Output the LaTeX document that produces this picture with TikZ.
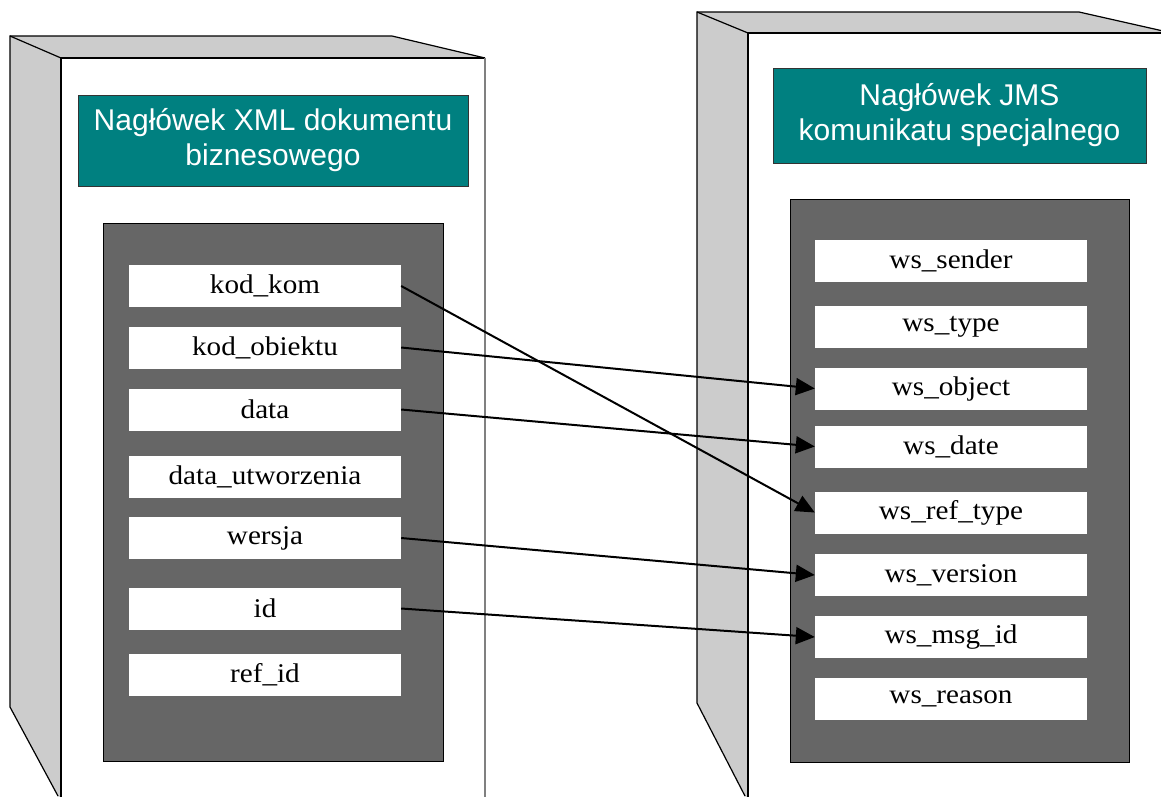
\documentclass[tikz,border=0pt]{standalone}
\usepackage{fontspec}
\usepackage{graphicx}
\setmainfont{Liberation Serif}
\newfontfamily\headsans{Liberation Sans}
\usetikzlibrary{arrows.meta}
\definecolor{sidegray}{HTML}{CCCCCC}
\definecolor{panelgray}{HTML}{666666}
\definecolor{hdrteal}{HTML}{008080}
\definecolor{edgegray}{HTML}{808080}
\newcommand{\fieldlabel}[1]{\scalebox{1.08}[1]{#1}}
\tikzset{
  outline/.style={line width=1.2, draw=black},
  sideface/.style={fill=sidegray},
  hdrbox/.style={draw=black!80, line width=0.8, fill=hdrteal, text=white, align=center, inner sep=0,
    font=\headsans\fontsize{30}{35}\selectfont},
  panelbox/.style={draw=black, line width=1, fill=panelgray, inner sep=0},
  fieldbox/.style={fill=white, inner sep=0, minimum width=272, minimum height=42,
    font=\fontsize{27}{31}\selectfont},
  link/.style={line width=2, -{Triangle[length=19,width=17]}}
}
\begin{document}
\begin{tikzpicture}[x=1pt,y=-1pt]
\useasboundingbox (0,0) rectangle (1161,796);
\clip (0,0) rectangle (1161,796);
\fill[white] (0,0) rectangle (1161,796);

% ---------- left box ----------
\fill[sideface] (10,36) -- (61,58) -- (61,800) -- (58,796) -- (10,707) -- cycle;
\fill[sideface] (10,36) -- (392,36) -- (485,58) -- (61,58) -- cycle;
\fill[white] (61,58) rectangle (485,800);
\draw[outline] (58,796) -- (10,707) -- (10,36) -- (392,36) -- (485,58);
\draw[outline] (10,36) -- (61,58);
\draw[outline] (61,800) -- (61,58) -- (485,58);
\draw[edgegray, line width=1.4] (485,58) -- (485,800);

% ---------- right box ----------
\fill[sideface] (697,12) -- (748,33) -- (748,800) -- (745,796) -- (697,703) -- cycle;
\fill[sideface] (697,12) -- (1079,12) -- (1172,33) -- (748,33) -- cycle;
\fill[white] (748,33) rectangle (1172,800);
\draw[outline] (745,796) -- (697,703) -- (697,12) -- (1079,12) -- (1172,33);
\draw[outline] (697,12) -- (748,33);
\draw[outline] (748,800) -- (748,33) -- (1172,33);

% ---------- headers ----------
\node[hdrbox, minimum width=390, minimum height=91] (hdrL) at (273,140.5)
  {Nagłówek XML dokumentu\\biznesowego};
\node[hdrbox, minimum width=373, minimum height=95] (hdrR) at (959.5,115.5)
  {Nagłówek JMS\\komunikatu specjalnego};

% ---------- panels ----------
\node[panelbox, minimum width=340, minimum height=538] (panelL) at (273,492) {};
\node[panelbox, minimum width=339, minimum height=563] (panelR) at (959.5,480.5) {};

% ---------- left fields ----------
\node[fieldbox] (kodkom)  at (265,286)   {\fieldlabel{kod\_kom}};
\node[fieldbox] (kodobj)  at (265,347.5) {\fieldlabel{kod\_obiektu}};
\node[fieldbox] (data)    at (265,409.5) {\fieldlabel{data}};
\node[fieldbox] (datautw) at (265,476.5) {\fieldlabel{data\_utworzenia}};
\node[fieldbox] (wersja)  at (265,538)   {\fieldlabel{wersja}};
\node[fieldbox] (id)      at (265,608.5) {\fieldlabel{id}};
\node[fieldbox] (refid)   at (265,675)   {\fieldlabel{ref\_id}};

% ---------- right fields ----------
\node[fieldbox] (wssender)  at (951,261)   {\fieldlabel{ws\_sender}};
\node[fieldbox] (wstype)    at (951,326.5) {\fieldlabel{ws\_type}};
\node[fieldbox] (wsobject)  at (951,388.5) {\fieldlabel{ws\_object}};
\node[fieldbox] (wsdate)    at (951,446.5) {\fieldlabel{ws\_date}};
\node[fieldbox] (wsreftype) at (951,512.5) {\fieldlabel{ws\_ref\_type}};
\node[fieldbox] (wsversion) at (951,575)   {\fieldlabel{ws\_version}};
\node[fieldbox] (wsmsgid)   at (951,637)   {\fieldlabel{ws\_msg\_id}};
\node[fieldbox] (wsreason)  at (951,698.5) {\fieldlabel{ws\_reason}};

% ---------- connectors ----------
\draw[link] (kodkom.east) -- (wsreftype.west);
\draw[link] (kodobj.east) -- (wsobject.west);
\draw[link] (data.east)   -- (wsdate.west);
\draw[link] (wersja.east) -- (wsversion.west);
\draw[link] (id.east)     -- (wsmsgid.west);
\end{tikzpicture}
\end{document}
